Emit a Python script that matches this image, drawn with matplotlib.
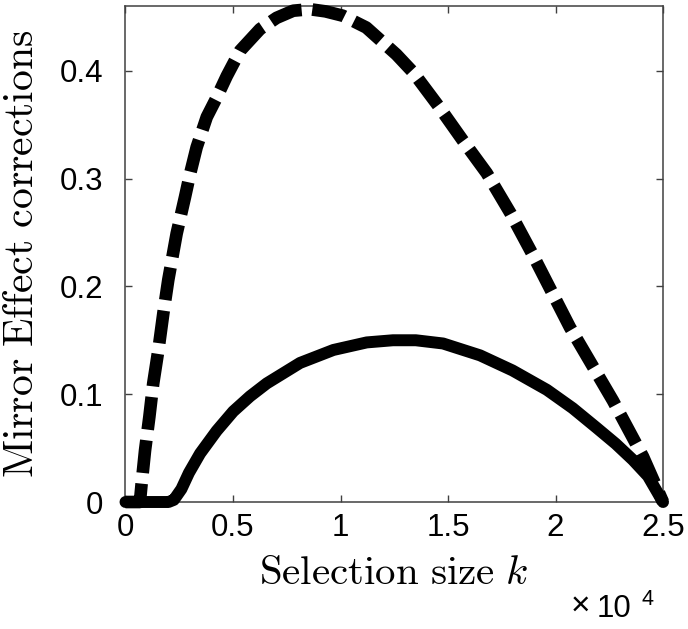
import matplotlib
matplotlib.use("Agg")
import matplotlib.pyplot as plt
from matplotlib.ticker import FuncFormatter

plt.rcParams['font.family'] = ['Liberation Sans', 'DejaVu Sans']
plt.rcParams['mathtext.fontset'] = 'cm'

# Dashed curve (upper)
k_dashed = [0, 350, 670, 750, 910, 1110, 1290, 1530, 1760, 1990, 2380, 2770, 3000,
            3310, 3780, 4240, 4710, 5330, 6260, 7030, 7800, 8580, 9300, 10100,
            11200, 12600, 13400, 14600, 15700, 16800, 17900, 18950, 20670, 22670,
            24070, 25000]
v_dashed = [0, 0, 0, 0.017, 0.048, 0.079, 0.110, 0.141, 0.175, 0.206, 0.249, 0.283,
            0.304, 0.329, 0.357, 0.375, 0.395, 0.4185, 0.4386, 0.449, 0.4556, 0.457,
            0.455, 0.451, 0.440, 0.415, 0.398, 0.366, 0.335, 0.305, 0.268, 0.229,
            0.162, 0.094, 0.042, 0]

# Solid curve (lower)
k_solid = [0, 500, 1000, 1500, 2000, 2250, 2600, 2950, 3470, 4240, 5010, 5790, 6570,
           8120, 9670, 11220, 12440, 13500, 14770, 16490, 18000, 19600, 20800,
           21900, 22800, 23600, 24300, 25000]
v_solid = [0, 0, 0, 0, 0, 0.002, 0.012, 0.027, 0.045, 0.066, 0.084, 0.098, 0.110,
           0.129, 0.141, 0.148, 0.150, 0.150, 0.147, 0.136, 0.122, 0.104, 0.087,
           0.069, 0.054, 0.039, 0.024, 0]

x_ticks = [0, 5000, 10000, 15000, 20000, 25000]
y_ticks = [0, 0.1, 0.2, 0.3, 0.4]

fig = plt.figure(figsize=(6.88, 6.29), dpi=100)
ax = fig.add_axes([0.1824, 0.2019, 0.7813, 0.7886])

ax.plot(k_dashed, v_dashed, color='black', lw=9.1, dashes=(2.6, 0.85),
        dash_capstyle='butt', dash_joinstyle='round', clip_on=False, zorder=3)
ax.plot(k_solid, v_solid, color='black', lw=8.6, solid_capstyle='round',
        solid_joinstyle='round', clip_on=False, zorder=3)

ax.set_xlim(0, 25000)
ax.set_ylim(0, 0.46)
ax.set_xticks(x_ticks)
ax.set_yticks(y_ticks)
ax.xaxis.set_major_formatter(FuncFormatter(lambda v, p: f"{v/1e4:g}"))
ax.yaxis.set_major_formatter(FuncFormatter(lambda v, p: f"{v:g}"))

for sp in ax.spines.values():
    sp.set_color('#404040')
    sp.set_linewidth(1.1)
ax.tick_params(axis='both', which='both', direction='in', length=5, width=1.0,
               color='#404040', top=True, right=True, labelsize=22.5,
               labelcolor='black')
ax.tick_params(axis='x', pad=8)
ax.tick_params(axis='y', pad=16)

ax.set_xlabel(r'$\mathrm{Selection\ size\ }k$', fontsize=29.5)
ax.xaxis.label.set_va('baseline')
ax.xaxis.set_label_coords(0.5, (502 - 584) / 496)
ax.set_ylabel(r'$\mathrm{Mirror\ Effect\ corrections}$', fontsize=30)
ax.yaxis.label.set_va('center')
ax.yaxis.set_label_coords((22 - 125.5) / 537.5, 0.5)

fig.text(571 / 688, 1 - 615 / 629, '×', fontsize=24, ha='left', va='baseline')
fig.text(597 / 688, 1 - 617 / 629, '10', fontsize=22.5, ha='left', va='baseline')
fig.text(641 / 688, 1 - 605 / 629, '4', fontsize=15.5, ha='left', va='baseline')

fig.savefig('out.png', dpi=100)
